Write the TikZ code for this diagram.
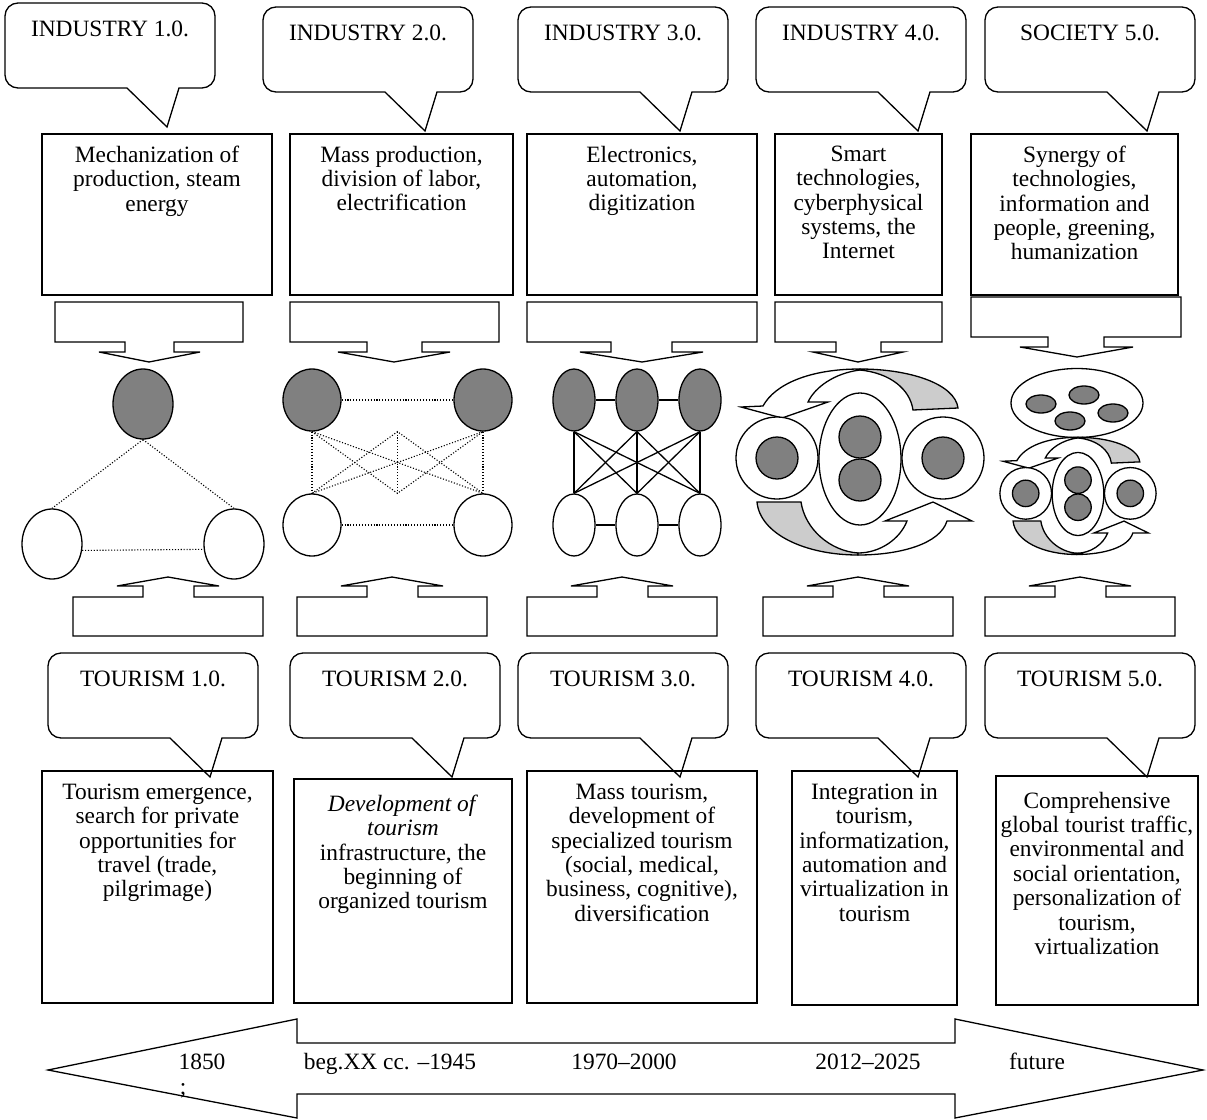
\documentclass[tikz,border=0pt]{standalone}
\usepackage{fontspec}
\setmainfont{Liberation Serif}
\usepackage{tikz}
\usetikzlibrary{positioning,fit,calc,shapes.geometric}

\definecolor{darkfill}{gray}{0.5}
\definecolor{lightfill}{gray}{0.8}

\newcommand{\speech}[4]{%
  \draw[blk] ({#2+174},{#3+85}) [rounded corners=6.5pt] -- ({#2+210},{#3+85}) -- ({#2+210},{#3}) -- ({#2},{#3}) -- ({#2},{#3+85}) -- ({#2+60},{#3+85}) [sharp corners] -- ({#2+122},{#3+85}) -- ({#2+162},{#3+124}) -- cycle;
  \node[lbl] (#1) at ({#2+105},{#3+26}) {#4};}
\newcommand{\arrowdn}[8]{%
  \draw[blk] (#1,#3) -- (#2,#3) -- (#2,{#3+40}) -- (#5,{#3+40}) -- (#5,{#3+50}) -- (#7,{#3+50}) -- (#8,{#3+60}) -- (#6,{#3+50}) -- (#4,{#3+50}) -- (#4,{#3+40}) -- (#1,{#3+40}) -- cycle;}
\newcommand{\arrowup}[1]{%
  \draw[blk] (#1,636) -- (#1,597) -- ({#1+70},597) -- ({#1+70},586) -- ({#1+44},586) -- ({#1+95},577) -- ({#1+146},586) -- ({#1+121},586) -- ({#1+121},597) -- ({#1+190},597) -- ({#1+190},636) -- cycle;}

\begin{document}
\begin{tikzpicture}[x=0.5pt, y=-0.5pt,
    lbl/.style={font=\fontsize{11.7}{12.2}\selectfont, inner sep=0pt, align=center},
    year/.style={lbl, anchor=base},
    frame/.style={draw, line width=0.55pt, inner sep=0pt},
    blk/.style={draw, line width=0.65pt, fill=white},
    outl/.style={draw, line width=0.65pt},
    gnode/.style={ellipse, draw, line width=0.65pt, fill=darkfill, inner sep=0pt, on grid},
    wnode/.style={ellipse, draw, line width=0.65pt, fill=white, inner sep=0pt, on grid},
    dots/.style={line width=0.55pt, dash pattern=on 0.55pt off 0.9pt},
    link/.style={line width=0.65pt},
    spin/.pic={
      \path[outl, fill=lightfill] (0,-90) .. controls (50,-90) and (95,-75) .. (98,-51) -- (53,-49) .. controls (50,-70) and (30,-86) .. (0,-89) -- cycle;
      \path[outl, fill=white] (0,-90) .. controls (-50,-90) and (-85,-75) .. (-97,-53) -- (-119,-52) -- (-78,-41) -- (-32,-57) -- (-52,-57) .. controls (-45,-72) and (-25,-86) .. (0,-89) -- cycle;
      \path[outl, fill=lightfill] (-103,43) -- (-59,43) .. controls (-55,70) and (-30,92) .. (-2,94) -- (-2,96) .. controls (-55,96) and (-100,75) .. (-103,43) -- cycle;
      \path[outl, fill=white] (-2,96) .. controls (40,96) and (80,85) .. (87,62) -- (112,62) -- (73,43) -- (25,62) -- (47,62) .. controls (40,80) and (20,94) .. (-2,94) -- cycle;
      \foreach \s in {-83,83} {
        \path[outl, fill=white] (\s,-1) circle[radius=41];
        \path[outl, fill=darkfill] (\s,-1) circle[radius=21];
      }
      \path[outl, fill=white] (0,0) ellipse[x radius=41, y radius=66];
      \path[outl, fill=darkfill] (0,-22) circle[radius=21];
      \path[outl, fill=darkfill] (0,21) circle[radius=21];
    }]
  \useasboundingbox (0,0) rectangle (1207,1120);

  % industry row
  \speech{ci1}{5}{3}{INDUSTRY 1.0.}
  \speech{ci2}{263}{7}{INDUSTRY 2.0.}
  \speech{ci3}{518}{7}{INDUSTRY 3.0.}
  \speech{ci4}{756}{7}{INDUSTRY 4.0.}
  \speech{ci5}{985}{7}{SOCIETY 5.0.}

  \node[frame, fit={(42,134) (272,295)}] (ind1) {};
  \node[frame, fit={(290,134) (513,295)}] (ind2) {};
  \node[frame, fit={(527,134) (757,295)}] (ind3) {};
  \node[frame, fit={(775,134) (942,295)}] (ind4) {};
  \node[frame, fit={(971,134) (1178,295)}] (ind5) {};
  \node[lbl, below=6pt of ind1.north] (ind1t) {Mechanization of\\production, steam\\energy};
  \node[lbl, below=6pt of ind2.north] (ind2t) {Mass production,\\division of labor,\\electrification};
  \node[lbl, below=6pt of ind3.north] (ind3t) {Electronics,\\automation,\\digitization};
  \node[lbl, below=6pt of ind4.north] (ind4t) {Smart\\technologies,\\cyberphysical\\systems, the\\Internet};
  \node[lbl, below=6pt of ind5.north] (ind5t) {Synergy of\\technologies,\\information and\\people, greening,\\humanization};

  \arrowdn{55}{243}{302}{125}{174}{99}{200}{149}
  \arrowdn{290}{499}{302}{367}{422}{338}{450}{394}
  \arrowdn{527}{757}{302}{611}{672}{580}{703}{642}
  \arrowdn{775}{942}{302}{836}{881}{813}{903}{858}
  \arrowdn{971}{1181}{297}{1048}{1104}{1020}{1133}{1077}

  % 1.0
  \node[gnode, minimum width=30pt, minimum height=35pt] (c1a) at (143,404) {};
  \node[wnode, minimum width=30pt, minimum height=35pt] (c1b) at (52,544) {};
  \node[wnode, minimum width=30pt, minimum height=35pt, right=91pt of c1b] (c1c) {};
  \draw[dots] (c1a.south) -- (c1b.north);
  \draw[dots] (c1a.south) -- (c1c.north);
  \draw[dots] (c1b.-12) -- (c1c.190);

  % 2.0
  \node[gnode, minimum width=29pt, minimum height=31pt] (c2a) at (312,400) {};
  \node[gnode, minimum width=29pt, minimum height=31pt, right=85.5pt of c2a] (c2b) {};
  \node[wnode, minimum width=29pt, minimum height=31pt, below=62.5pt of c2a] (c2c) {};
  \node[wnode, minimum width=29pt, minimum height=31pt, right=85.5pt of c2c] (c2d) {};
  \coordinate (c2top) at ($(c2a.south)!0.5!(c2b.south)$);
  \coordinate (c2bot) at ($(c2c.north)!0.5!(c2d.north)$);
  \draw[dots] (c2a) -- (c2b);
  \draw[dots] (c2c) -- (c2d);
  \draw[dots] (c2a.south) -- (c2c.north);
  \draw[dots] (c2b.south) -- (c2d.north);
  \draw[dots] (c2a.south) -- (c2d.north);
  \draw[dots] (c2b.south) -- (c2c.north);
  \draw[dots] (c2a.south) -- (c2bot) -- (c2b.south);
  \draw[dots] (c2c.north) -- (c2top) -- (c2d.north);
  \draw[dots] (c2top) -- (c2bot);

  % 3.0
  \node[gnode, minimum width=21pt, minimum height=31pt] (c3a) at (574,400) {};
  \node[gnode, minimum width=21pt, minimum height=31pt, right=31.5pt of c3a] (c3b) {};
  \node[gnode, minimum width=21pt, minimum height=31pt, right=31.5pt of c3b] (c3c) {};
  \node[wnode, minimum width=21pt, minimum height=31pt, below=62.5pt of c3a] (c3d) {};
  \node[wnode, minimum width=21pt, minimum height=31pt, right=31.5pt of c3d] (c3e) {};
  \node[wnode, minimum width=21pt, minimum height=31pt, right=31.5pt of c3e] (c3f) {};
  \draw[link] (c3a) -- (c3b) -- (c3c);
  \draw[link] (c3d) -- (c3e) -- (c3f);
  \foreach \t in {c3a,c3b,c3c}
    \foreach \b in {c3d,c3e,c3f}
      \draw[link] (\t.south) -- (\b.north);

  % 4.0 and 5.0
  \pic (ind) at (860,459) {spin};
  \path[outl, fill=white] (1077,403) ellipse[x radius=66, y radius=34.5];
  \foreach \p in {(1041,404),(1084,395),(1070,421),(1113,413)}
    \path[outl, fill=darkfill] \p ellipse[x radius=15, y radius=9];
  \pic[scale=0.63] (soc) at (1078,494) {spin};

  \foreach \x in {73,297,527,763,985}
    {\arrowup{\x}}

  % tourism row
  \speech{ct1}{48}{653}{TOURISM 1.0.}
  \speech{ct2}{290}{653}{TOURISM 2.0.}
  \speech{ct3}{518}{653}{TOURISM 3.0.}
  \speech{ct4}{756}{653}{TOURISM 4.0.}
  \speech{ct5}{985}{653}{TOURISM 5.0.}

  \node[frame, fit={(42,771) (273,1003)}] (tour1) {};
  \node[frame, fit={(294,779) (512,1003)}] (tour2) {};
  \node[frame, fit={(527,771) (757,1003)}] (tour3) {};
  \node[frame, fit={(792,771) (957,1005)}] (tour4) {};
  \node[frame, fit={(996,776) (1198,1005)}] (tour5) {};
  \node[lbl, below=6.5pt of tour1.north] (tour1t) {Tourism emergence,\\search for private\\opportunities for\\travel (trade,\\pilgrimage)};
  \node[lbl, below=8pt of tour2.north] (tour2t) {\textit{Development of}\\\textit{tourism}\\infrastructure, the\\beginning of\\organized tourism};
  \node[lbl, below=6.5pt of tour3.north] (tour3t) {Mass tourism,\\development of\\specialized tourism\\(social, medical,\\business, cognitive),\\diversification};
  \node[lbl, below=6.5pt of tour4.north] (tour4t) {Integration in\\tourism,\\informatization,\\automation and\\virtualization in\\tourism};
  \node[lbl, below=8pt of tour5.north] (tour5t) {Comprehensive\\global tourist traffic,\\environmental and\\social orientation,\\personalization of\\tourism,\\virtualization};

  % timeline
  \draw[blk] (48,1070) -- (297,1019) -- (297,1043) -- (955,1043) -- (955,1019) -- (1203,1070) -- (955,1118) -- (955,1094) -- (297,1094) -- (297,1118) -- cycle;
  \node[year] (y1) at (202,1069) {1850};
  \node[year] (y1s) at (183,1094) {;};
  \node[year] (y2) at (390,1069) {beg.XX cc. –1945};
  \node[year] (y3) at (624,1069) {1970–2000};
  \node[year] (y4) at (868,1069) {2012–2025};
  \node[year] (y5) at (1037,1069) {future};
\end{tikzpicture}
\end{document}
